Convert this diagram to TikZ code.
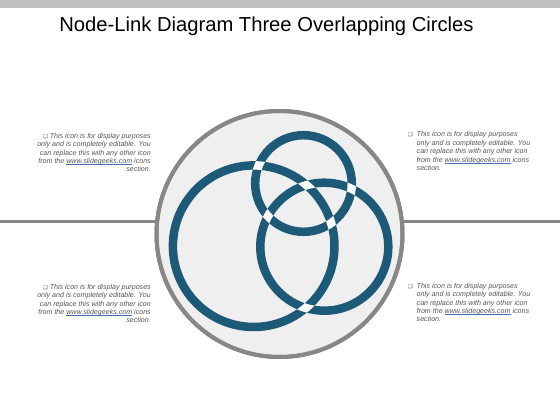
\documentclass[tikz,border=0pt]{standalone}
\usepackage{fontspec}
\setmainfont{Liberation Sans}
\newfontfamily\symfont{DejaVu Sans}
\definecolor{ringblue}{HTML}{1C5A78}
\definecolor{bggray}{HTML}{EFEFEF}
\definecolor{edgegray}{HTML}{878787}
\definecolor{bargray}{HTML}{C0C0C0}
\definecolor{textgray}{HTML}{555555}
\definecolor{linkblue}{HTML}{3F6FB5}
\newcommand{\chk}{{\symfont\fontsize{5.5}{5.5}\selectfont ❑}}
\newsavebox{\lnkbox}
\newcommand{\lnk}{\sbox{\lnkbox}{www.slidegeeks.com}{\color{linkblue}\rlap{\rule[-0.9pt]{\wd\lnkbox}{0.4pt}}\usebox{\lnkbox}}}
\tikzset{
  ring/.style={draw=ringblue, line width=8.5pt},
  patch/.style={draw=white, line width=8.5pt},
  blk/.style={inner sep=0pt, text=textgray, font=\fontsize{7.1}{8.4}\selectfont\itshape},
  leftblk/.style={blk, align=right, anchor=north east},
  rightblk/.style={blk, align=left, anchor=north west},
  sideline/.style={draw=edgegray, line width=3pt}
}
\begin{document}
\begin{tikzpicture}[x=1pt,y=-1pt]
\useasboundingbox (0,0) rectangle (560,420);
\fill[bargray] (0,0) rectangle (560,8);
\node[anchor=base, inner sep=0pt, font=\fontsize{20.2}{21}\selectfont] (title) at (266.5,32) {Node-Link Diagram Three Overlapping Circles};

% side lines
\coordinate (l1) at (0,221);
\coordinate (r1) at (560,221);
\node[circle, draw=edgegray, fill=bggray, line width=4pt, minimum size=246pt, inner sep=0pt] (big) at (279.5,234) {};
\draw[sideline] (l1) -- ([xshift=1pt]l1 -| big.west);
\draw[sideline] (r1) -- ([xshift=-1pt]r1 -| big.east);
\draw[draw=edgegray, line width=4pt] (big) circle (123pt);

% rings
\coordinate (S) at (303.5,183.5);
\coordinate (L) at (253.7,246.2);
\coordinate (R) at (324.3,246.7);
\draw[ring] (S) circle (48.3);
\draw[ring] (L) circle (80.8);
\draw[ring] (R) circle (64.0);
% white patches at crossings
\begin{scope}[even odd rule]
  \clip (S) circle (52.55) (S) circle (44.05);
  \draw[patch] (L) circle (80.8);
  \draw[patch] (R) circle (64.0);
\end{scope}
\begin{scope}[even odd rule]
  \clip (L) circle (85.05) (L) circle (76.55);
  \draw[patch] (R) circle (64.0);
\end{scope}

% text blocks
\node[leftblk] (tl) at (151,133) {\chk\ This icon is for display purposes\\only and is completely editable. You\\can replace this with  any other icon\\from the \lnk\ icons\\section.};
\node[leftblk] (bl) at (151,284) {\chk\ This icon is for display purposes\\only and is completely editable. You\\can replace this with  any other icon\\from the \lnk\ icons\\section.};
\node[rightblk] (tr) at (416.5,131.5) {\llap{\chk\hspace{4pt}}This icon is for display purposes\\only and is completely editable. You\\can replace this with  any other icon\\from the \lnk\ icons\\section.};
\node[rightblk] (br) at (416.5,283) {\llap{\chk\hspace{4pt}}This icon is for display purposes\\only and is completely editable. You\\can replace this with  any other icon\\from the \lnk\ icons\\section.};
\end{tikzpicture}
\end{document}
